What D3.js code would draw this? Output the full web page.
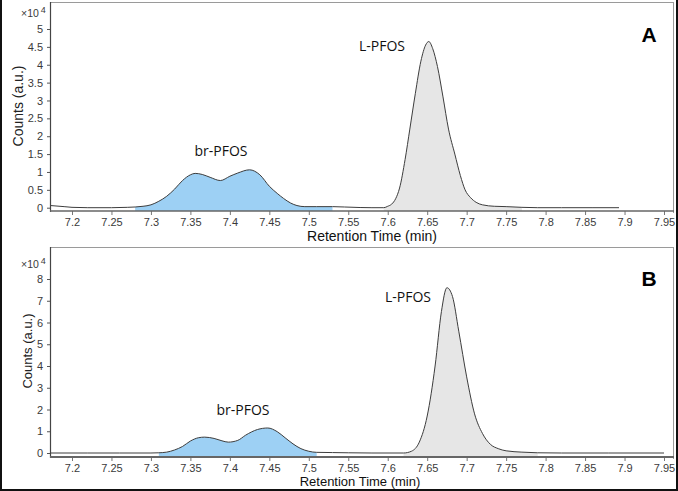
<!DOCTYPE html>
<html>
<head>
<meta charset="utf-8">
<script src="https://cdn.jsdelivr.net/npm/d3@7"></script>
<style>
  body { margin: 0; background: #fff; }
  svg { display: block; font-family: "Liberation Sans", Arial, sans-serif; }
</style>
</head>
<body>
<div id="chart"></div>
<script>
// x ticks shared by both panels
var xTicks = [7.2, 7.25, 7.3, 7.35, 7.4, 7.45, 7.5, 7.55, 7.6, 7.65, 7.7, 7.75, 7.8, 7.85, 7.9, 7.95];

// panel A
var yTicksA = [0, 0.5, 1, 1.5, 2, 2.5, 3, 3.5, 4, 4.5, 5];
var timeA = [7.173, 7.19, 7.2, 7.22, 7.25, 7.27, 7.28, 7.29, 7.3, 7.31, 7.32, 7.33, 7.34, 7.35, 7.356, 7.365, 7.375, 7.388,
  7.4, 7.41, 7.425, 7.438, 7.45, 7.46, 7.468, 7.477, 7.485, 7.495, 7.51, 7.53, 7.545, 7.565, 7.58, 7.595, 7.6, 7.605,
  7.61, 7.615, 7.622, 7.628, 7.635, 7.642, 7.648, 7.652, 7.657, 7.663, 7.67, 7.677, 7.685, 7.692, 7.698, 7.705, 7.712,
  7.72, 7.735, 7.75, 7.77, 7.79, 7.82, 7.86, 7.893];
var countsA = [0.06, 0.03, 0.01, 0, 0, 0.01, 0.02, 0.04, 0.08, 0.18, 0.32, 0.52, 0.76, 0.92, 0.96, 0.93, 0.85, 0.76,
  0.88, 0.97, 1.06, 0.92, 0.6, 0.4, 0.26, 0.13, 0.06, 0.03, 0.03, 0.03, 0.02, 0.005, 0, 0, 0.04, 0.1,
  0.25, 0.55, 1.35, 2.2, 3.2, 4.1, 4.55, 4.65, 4.45, 3.95, 3.1, 2.2, 1.5, 0.9, 0.5, 0.28, 0.15,
  0.08, 0.04, 0.03, 0.01, 0, 0, 0, 0];
var brRangeA = [7.28, 7.54];
var lRangeA = [7.595, 7.78];

// panel B
var yTicksB = [0, 1, 2, 3, 4, 5, 6, 7, 8];
var timeB = [7.173, 7.22, 7.26, 7.3, 7.31, 7.32, 7.33, 7.34, 7.35, 7.36, 7.368, 7.38, 7.39, 7.398, 7.41, 7.42, 7.435,
  7.448, 7.46, 7.47, 7.48, 7.49, 7.5, 7.51, 7.53, 7.55, 7.58, 7.62, 7.63, 7.64, 7.65, 7.66, 7.668, 7.675, 7.682,
  7.69, 7.7, 7.71, 7.72, 7.73, 7.74, 7.75, 7.77, 7.79, 7.82, 7.88, 7.95];
var countsB = [0, 0, 0, 0, 0.01, 0.04, 0.14, 0.3, 0.55, 0.7, 0.73, 0.67, 0.56, 0.5, 0.58, 0.82, 1.08,
  1.15, 0.98, 0.7, 0.42, 0.2, 0.08, 0.03, 0.02, 0.01, 0, 0, 0.08, 0.5, 1.7, 4.0, 6.5, 7.6, 7.2,
  5.6, 3.5, 1.8, 0.9, 0.4, 0.2, 0.1, 0.04, 0.01, 0, 0, 0];
var brRangeB = [7.31, 7.52];
var lRangeB = [7.62, 7.79];

var W = 678, H = 491;
var svg = d3.select("#chart").append("svg").attr("width", W).attr("height", H);

var x = d3.scaleLinear().domain([7.2, 7.95]).range([72, 664]);

function drawPanel(p) {
  var g = svg.append("g");
  var y = d3.scaleLinear().domain([0, p.yTicks[p.yTicks.length - 1]]).range([p.zeroY, p.topTickY]);
  var data = p.time.map(function(t, i) { return {t: t, c: p.counts[i]}; });

  // box borders (top and right lighter)
  g.append("line").attr("x1", 50.5).attr("x2", p.right).attr("y1", p.top + 0.5).attr("y2", p.top + 0.5)
    .attr("stroke", "#9a9a9a");
  g.append("line").attr("x1", p.right - 0.5).attr("x2", p.right - 0.5).attr("y1", p.top).attr("y2", p.axisY + 2)
    .attr("stroke", "#9a9a9a");

  var area = d3.area().x(function(d) { return x(d.t); }).y0(p.axisY).y1(function(d) { return y(d.c); })
    .curve(d3.curveMonotoneX);
  var line = d3.line().x(function(d) { return x(d.t); }).y(function(d) { return y(d.c); })
    .curve(d3.curveMonotoneX);

  g.append("path").datum(data.filter(function(d) { return d.t >= p.brRange[0] && d.t <= p.brRange[1]; }))
    .attr("d", area).attr("fill", "#9dd0f4");
  g.append("path").datum(data.filter(function(d) { return d.t >= p.lRange[0] && d.t <= p.lRange[1]; }))
    .attr("d", area).attr("fill", "#e6e6e6");
  g.append("path").datum(data).attr("d", line).attr("fill", "none").attr("stroke", "#3d3d3d").attr("stroke-width", 1);

  // axes
  var xAxis = g.append("g").attr("transform", "translate(0," + p.axisY + ")")
    .call(d3.axisBottom(x).tickValues(xTicks).tickFormat(d3.format("")).tickSize(4).tickPadding(3).tickSizeOuter(0));
  xAxis.select(".domain").remove();
  xAxis.selectAll("text").attr("font-size", 11).attr("fill", "#3a3a3a").attr("font-family", "Liberation Sans");
  xAxis.selectAll("line").attr("stroke", "#777");

  var yAxis = g.append("g").attr("transform", "translate(50,0)")
    .call(d3.axisLeft(y).tickValues(p.yTicks).tickFormat(d3.format("")).tickSize(3).tickPadding(4).tickSizeOuter(0));
  yAxis.select(".domain").remove();
  yAxis.selectAll("text").attr("font-size", 11).attr("fill", "#3a3a3a").attr("font-family", "Liberation Sans");
  yAxis.selectAll("line").attr("stroke", "#555");

  g.append("line").attr("x1", 50.5).attr("x2", 50.5).attr("y1", p.top).attr("y2", p.axisY + 1)
    .attr("stroke", "#444").attr("stroke-width", 1.2);
  g.append("line").attr("x1", 50).attr("x2", p.right).attr("y1", p.axisY).attr("y2", p.axisY)
    .attr("stroke", "#666").attr("stroke-width", p.axisW);

  // x10^4
  var e = g.append("text").attr("x", 21).attr("y", p.expY).attr("font-size", 10.5).attr("fill", "#3a3a3a");
  e.append("tspan").text("\u00d710");
  e.append("tspan").attr("dx", 2).attr("dy", -4).attr("font-size", 9).text("4");

  g.append("text").attr("transform", "translate(" + p.yTitleX + "," + p.yTitleY + ") rotate(-90)")
    .attr("text-anchor", "middle").attr("dy", "0.35em").attr("font-size", p.titleSize).attr("fill", "#222")
    .text("Counts (a.u.)");
  g.append("text").attr("x", p.xTitleX).attr("y", p.xTitleY).attr("text-anchor", "middle")
    .attr("font-size", p.titleSize).attr("fill", "#111").text("Retention Time (min)");

  // peak labels
  g.append("text").attr("x", p.brLabel[0]).attr("y", p.brLabel[1]).attr("text-anchor", "middle")
    .attr("font-family", "Open Sans").attr("font-size", 14).attr("fill", "#111").text("br-PFOS");
  g.append("text").attr("x", p.lLabel[0]).attr("y", p.lLabel[1]).attr("text-anchor", "middle")
    .attr("font-family", "Open Sans").attr("font-size", 14).attr("fill", "#111").text("L-PFOS");
  g.append("text").attr("x", 649).attr("y", p.letterY).attr("text-anchor", "middle")
    .attr("font-family", "Liberation Sans").attr("font-weight", "bold").attr("font-size", 21).attr("fill", "#000")
    .text(p.letter);
}

drawPanel({
  time: timeA, counts: countsA, yTicks: yTicksA, brRange: brRangeA, lRange: lRangeA,
  top: 2, right: 674, axisY: 211, axisW: 1.5, zeroY: 207.7, topTickY: 29,
  expY: 17, yTitleX: 18, yTitleY: 106, xTitleX: 372, xTitleY: 241, titleSize: 14,
  brLabel: [221, 156], lLabel: [382, 51], letter: "A", letterY: 42
});
drawPanel({
  time: timeB, counts: countsB, yTicks: yTicksB, brRange: brRangeB, lRange: lRangeB,
  top: 247, right: 674, axisY: 457, axisW: 2, zeroY: 453, topTickY: 279,
  expY: 268, yTitleX: 27, yTitleY: 351, xTitleX: 360, xTitleY: 486, titleSize: 13,
  brLabel: [243, 415], lLabel: [408, 302], letter: "B", letterY: 286
});

// outer frame
svg.append("line").attr("x1", 1).attr("x2", 1).attr("y1", 0).attr("y2", H).attr("stroke", "#111").attr("stroke-width", 2);
svg.append("line").attr("x1", 677).attr("x2", 677).attr("y1", 0).attr("y2", H).attr("stroke", "#111").attr("stroke-width", 2);
svg.append("line").attr("x1", 0).attr("x2", W).attr("y1", 490).attr("y2", 490).attr("stroke", "#111").attr("stroke-width", 2);
</script>
</body>
</html>
